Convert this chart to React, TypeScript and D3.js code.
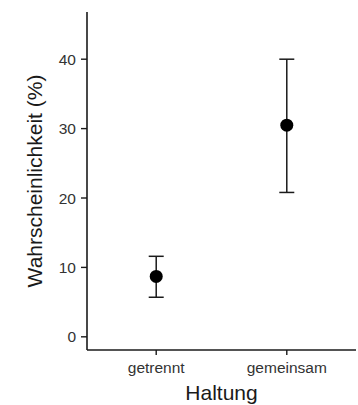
import React from "react";
import * as d3 from "d3";

// gruppen und werte (prozent)
const groups = ["getrennt", "gemeinsam"];
const means = [8.7, 30.5];
const lower = [5.7, 20.8];
const upper = [11.6, 40.0];
const yTicks = [0, 10, 20, 30, 40];

const W = 358;
const H = 405;
const margin = { top: 12, right: 2, bottom: 55, left: 87 };

export const App = () => {
  const y = d3.scaleLinear().domain([-1.9, 46.8]).range([H - margin.bottom, margin.top]);
  const x = d3
    .scalePoint<string>()
    .domain(groups)
    .range([margin.left, W - margin.right])
    .padding(0.53);

  const font = "'Liberation Sans', Arial, sans-serif";
  const ink = "#1a1a1a";
  const x0 = margin.left;
  const yBase = H - margin.bottom;

  return (
    <svg width={W} height={H} style={{ position: "absolute", left: 0, top: 0 }}>
      {/* y achse */}
      <line x1={x0} x2={x0} y1={margin.top} y2={yBase} stroke={ink} strokeWidth={1.6} />
      {yTicks.map((t) => (
        <g key={t} transform={`translate(${x0},${y(t)})`}>
          <line x1={-6} x2={0} stroke={ink} strokeWidth={1.4} />
          <text x={-11} dy="0.36em" textAnchor="end" fontFamily={font} fontSize={15.5} fill="#333">
            {t}
          </text>
        </g>
      ))}
      {/* x achse */}
      <line x1={x0} x2={W - margin.right} y1={yBase} y2={yBase} stroke={ink} strokeWidth={1.6} />
      {groups.map((g) => (
        <g key={g} transform={`translate(${x(g)},${yBase})`}>
          <line y1={0} y2={5} stroke={ink} strokeWidth={1.4} />
          <text y={23} textAnchor="middle" fontFamily={font} fontSize={15.5} fill="#333">
            {g}
          </text>
        </g>
      ))}
      <text x={(x0 + W - margin.right) / 2} y={400} textAnchor="middle" fontFamily={font} fontSize={21} fill={ink}>
        Haltung
      </text>
      <text
        transform={`translate(42,${(margin.top + yBase) / 2}) rotate(-90)`}
        textAnchor="middle"
        fontFamily={font}
        fontSize={21}
        fill={ink}
      >
        Wahrscheinlichkeit (%)
      </text>
      {/* fehlerbalken und punkte */}
      {groups.map((g, i) => {
        const cx = x(g) as number;
        return (
          <g key={g}>
            <line x1={cx} x2={cx} y1={y(upper[i])} y2={y(lower[i])} stroke={ink} strokeWidth={1.5} />
            <line x1={cx - 7.5} x2={cx + 7.5} y1={y(upper[i])} y2={y(upper[i])} stroke={ink} strokeWidth={1.5} />
            <line x1={cx - 7.5} x2={cx + 7.5} y1={y(lower[i])} y2={y(lower[i])} stroke={ink} strokeWidth={1.5} />
            <circle cx={cx} cy={y(means[i])} r={6.5} fill="#000" />
          </g>
        );
      })}
    </svg>
  );
};

export default App;
